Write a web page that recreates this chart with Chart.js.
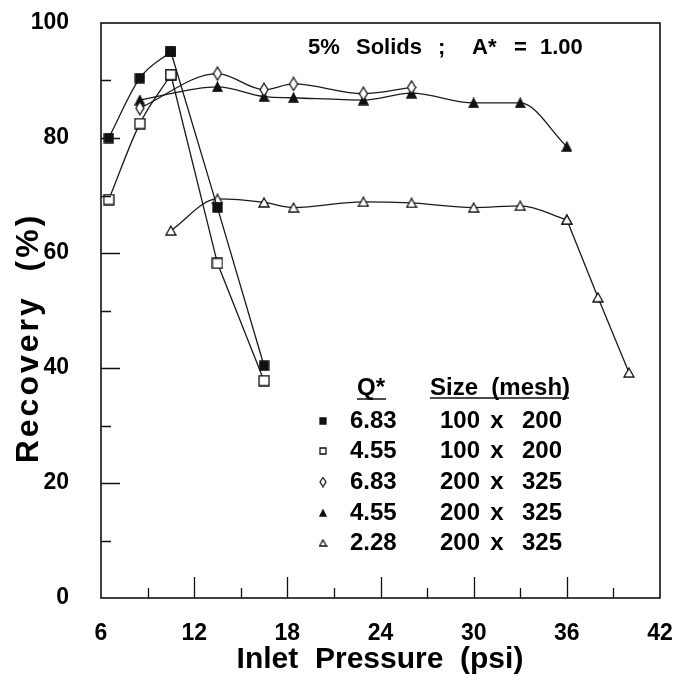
<!DOCTYPE html>
<html><head><meta charset="utf-8">
<script src="https://cdn.jsdelivr.net/npm/chart.js@4/dist/chart.umd.min.js"></script>
<style>html,body{margin:0;padding:0;background:#fff}</style>
</head><body>
<canvas id="c" width="676" height="684" style="width:676px;height:684px;display:block"></canvas>
<script>
// ---- data ----
const pressureSq683 = [6.5, 8.5, 10.5, 13.5, 16.5];          // Q*=6.83, 100 x 200
const recoverySq683 = [80.0, 90.4, 95.0, 67.9, 40.4];
const pressureSq455 = [6.5, 8.5, 10.5, 13.5, 16.5];          // Q*=4.55, 100 x 200
const recoverySq455 = [69.3, 82.5, 91.0, 58.2, 37.8];
const pressureDia683 = [8.5, 13.5, 16.5, 18.4, 22.9, 26];    // Q*=6.83, 200 x 325
const recoveryDia683 = [85.2, 91.2, 88.4, 89.4, 87.7, 88.8];
const pressureTri455 = [8.5, 13.5, 16.5, 18.4, 22.9, 26, 30, 33, 36]; // Q*=4.55, 200 x 325
const recoveryTri455 = [86.6, 88.9, 87.2, 87.0, 86.6, 87.8, 86.1, 86.1, 78.5];
const pressureTri228 = [10.5, 13.5, 16.5, 18.4, 22.9, 26, 30, 33, 36, 38, 40]; // Q*=2.28, 200 x 325
const recoveryTri228 = [63.9, 69.4, 68.8, 67.9, 68.9, 68.7, 67.9, 68.2, 65.8, 52.3, 39.2];

const xTicks = [6, 12, 18, 24, 30, 36, 42];
const yTicks = [0, 20, 40, 60, 80, 100];
const legendQ = ['6.83', '4.55', '6.83', '4.55', '2.28'];
const legendSizeA = ['100', '100', '200', '200', '200'];
const legendSizeB = ['200', '200', '325', '325', '325'];
const titleText = ['5%', 'Solids', ';', 'A*', '=', '1.00'];

// ---- marker images ----
function marker(kind, w, h) {
  const c = document.createElement('canvas');
  c.width = w + 2; c.height = h + 2;
  const g = c.getContext('2d');
  g.lineWidth = 1.3; g.strokeStyle = '#111';
  const filled = kind.startsWith('f');
  g.fillStyle = filled ? '#111' : '#fff';
  g.beginPath();
  if (kind.endsWith('sq')) { g.rect(1, 1, w, h); }
  else if (kind.endsWith('dia')) { g.moveTo(1 + w/2, 1); g.lineTo(1 + w, 1 + h/2); g.lineTo(1 + w/2, 1 + h); g.lineTo(1, 1 + h/2); g.closePath(); }
  else { g.moveTo(1 + w/2, 1); g.lineTo(1 + w, 1 + h); g.lineTo(1, 1 + h); g.closePath(); }
  g.fill(); g.stroke();
  return c;
}
const mFSq = marker('fsq', 9, 9), mOSq = marker('osq', 10, 10), mODia = marker('odia', 8, 13),
      mFTri = marker('ftri', 9, 9), mOTri = marker('otri', 10, 9);
const lmFSq = marker('fsq', 6, 6), lmOSq = marker('osq', 6, 6), lmODia = marker('odia', 6, 9),
      lmFTri = marker('ftri', 6, 6), lmOTri = marker('otri', 7, 6);

const pts = (xs, ys) => xs.map((x, i) => ({x, y: ys[i]}));
const LINE = '#1a1a1a';
function ds(data, img, mode, tension) {
  return { data, pointStyle: img, borderColor: LINE, borderWidth: 1.3, showLine: true,
    cubicInterpolationMode: mode, tension: tension, pointRadius: 5, pointHoverRadius: 5, fill: false };
}
const sqA = pts(pressureSq683, recoverySq683), sqB = pts(pressureSq455, recoverySq455);
const tri228 = pts(pressureTri228, recoveryTri228);

const font = 'Liberation Sans, Arial, Helvetica, sans-serif';

const decor = {
  id: 'decor',
  afterDraw(chart) {
    const ctx = chart.ctx, a = chart.chartArea, xs = chart.scales.x, ys = chart.scales.y;
    ctx.save();
    ctx.strokeStyle = '#111'; ctx.lineWidth = 1.6;
    ctx.strokeRect(a.left, a.top, a.right - a.left, a.bottom - a.top);
    ctx.lineWidth = 1.3;
    ctx.beginPath();
    for (let v = 9; v < 42; v += 3) {
      const px = Math.round(xs.getPixelForValue(v)) + 0.5;
      const len = (v % 6 === 0) ? 21 : 10;
      ctx.moveTo(px, a.bottom); ctx.lineTo(px, a.bottom - len);
    }
    for (let v = 10; v < 100; v += 10) {
      const py = Math.round(ys.getPixelForValue(v)) + 0.5;
      const len = (v % 20 === 0) ? 19 : 10;
      ctx.moveTo(a.left, py); ctx.lineTo(a.left + len, py);
    }
    ctx.stroke();

    ctx.fillStyle = '#000';
    ctx.textBaseline = 'middle';
    // header title
    ctx.font = 'bold 22px ' + font;
    const tx = [308, 356, 438, 472, 514, 540];
    titleText.forEach((t, i) => { ctx.textAlign = 'left'; ctx.fillText(t, tx[i], 48); });

    // axis titles
    ctx.font = 'bold 30px ' + font;
    ctx.textAlign = 'center';
    ctx.fillText('Inlet  Pressure  (psi)', 380, 660);
    ctx.save();
    ctx.translate(29, 338); ctx.rotate(-Math.PI / 2);
    ctx.font = 'bold 32px ' + font;
    ctx.letterSpacing = '3px';
    ctx.fillText('Recovery  (%)', 0, 0);
    ctx.restore();

    // legend
    ctx.font = 'bold 24px ' + font;
    ctx.textAlign = 'left';
    ctx.fillText('Q*', 357, 388);
    ctx.fillText('Size  (mesh)', 430, 388);
    ctx.lineWidth = 1.5;
    ctx.beginPath();
    ctx.moveTo(357, 399); ctx.lineTo(386, 399);
    ctx.moveTo(430, 398); ctx.lineTo(569, 398);
    ctx.stroke();
    const rowsY = [421, 451, 482, 513, 543];
    const imgs = [lmFSq, lmOSq, lmODia, lmFTri, lmOTri];
    rowsY.forEach((y, i) => {
      const im = imgs[i];
      ctx.drawImage(im, 323 - im.width / 2, y - im.height / 2);
      ctx.textAlign = 'left';
      ctx.fillText(legendQ[i], 350, y);
      ctx.fillText(legendSizeA[i], 440, y);
      ctx.textAlign = 'center';
      ctx.fillText('x', 497, y);
      ctx.textAlign = 'right';
      ctx.fillText(legendSizeB[i], 562, y);
    });
    ctx.restore();
  }
};

new Chart(document.getElementById('c'), {
  type: 'scatter',
  data: { datasets: [
    ds(sqA.slice(0, 3), mFSq, 'monotone', 0.4),
    ds(sqA.slice(2), mFSq, 'default', 0),
    ds(sqB.slice(0, 3), mOSq, 'monotone', 0.4),
    ds(sqB.slice(2), mOSq, 'default', 0),
    ds(pts(pressureDia683, recoveryDia683), mODia, 'monotone', 0.4),
    ds(pts(pressureTri455, recoveryTri455), mFTri, 'monotone', 0.4),
    ds(tri228.slice(0, 9), mOTri, 'monotone', 0.4),
    ds(tri228.slice(8), mOTri, 'default', 0)
  ]},
  options: {
    responsive: false, animation: false, devicePixelRatio: 1,
    layout: { padding: { top: 23, right: 16, left: 0, bottom: 0 } },
    plugins: { legend: { display: false }, tooltip: { enabled: false } },
    scales: {
      x: { type: 'linear', min: 6, max: 42,
        afterFit: s => { s.height = 86; s.paddingLeft = 0; s.paddingRight = 0; },
        afterBuildTicks: s => { s.ticks = xTicks.map(v => ({value: v})); },
        grid: { display: false }, border: { display: false },
        ticks: { color: '#000', font: { family: font, size: 23, weight: 'bold' }, padding: 14, maxRotation: 0, autoSkip: false } },
      y: { type: 'linear', min: 0, max: 100,
        afterFit: s => { s.width = 101; s.paddingTop = 0; s.paddingBottom = 0; },
        afterBuildTicks: s => { s.ticks = yTicks.map(v => ({value: v})); },
        grid: { display: false }, border: { display: false },
        ticks: { color: '#000', font: { family: font, size: 23, weight: 'bold' }, padding: 24 } }
    }
  },
  plugins: [decor]
});
</script>
</body></html>
